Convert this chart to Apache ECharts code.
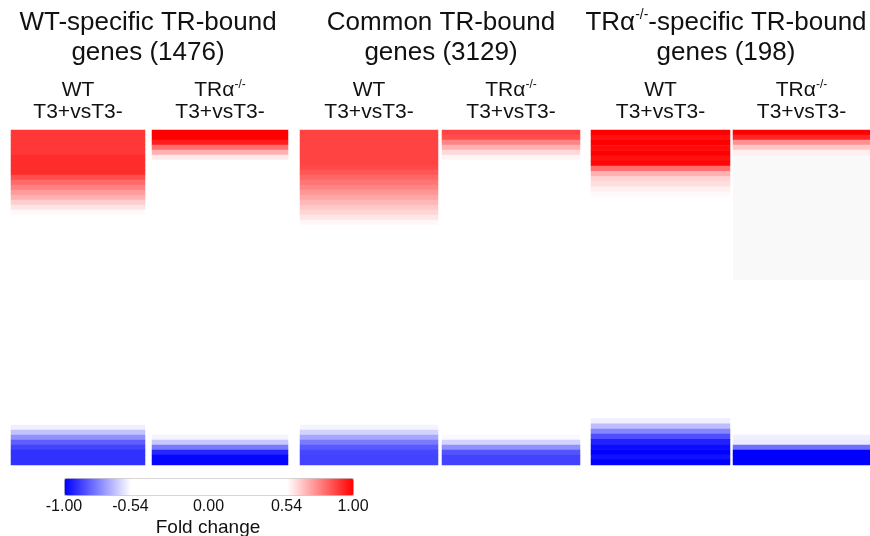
<!DOCTYPE html>
<html>
<head>
<meta charset="utf-8">
<title>TR-bound genes heatmap</title>
<script src="https://cdn.jsdelivr.net/npm/echarts@6/dist/echarts.min.js"></script>
<style>
  html, body { margin: 0; padding: 0; background: #fff; }
  #main { width: 870px; height: 536px; }
</style>
</head>
<body>
<div id="main"></div>
<script>
// fold change (T3+ vs T3-) per gene bin, sorted top -> bottom, 67 bins per column
// null = no value (shown as light grey)
var wtSpecWT = [0.90, 0.90, 0.90, 0.90, 0.90, 0.92, 0.92, 0.92, 0.92, 0.86, 0.81, 0.77, 0.72, 0.68, 0.63, 0.59, 0.55,
  0, 0, 0, 0, 0, 0, 0, 0, 0, 0, 0, 0, 0, 0, 0, 0, 0, 0, 0, 0, 0, 0, 0, 0, 0, 0, 0, 0, 0, 0, 0, 0, 0, 0, 0, 0, 0, 0, 0, 0, 0, 0,
  -0.57, -0.65, -0.74, -0.83, -0.88, -0.91, -0.91, -0.91];
var wtSpecKO = [1.0, 1.0, 0.95, 0.80, 0.68, 0.58,
  0, 0, 0, 0, 0, 0, 0, 0, 0, 0, 0, 0, 0, 0, 0, 0, 0, 0, 0, 0, 0, 0, 0, 0, 0, 0, 0, 0, 0, 0, 0, 0, 0, 0, 0, 0, 0, 0, 0, 0, 0, 0, 0, 0, 0, 0, 0, 0, 0, 0, 0, 0, 0, 0, 0,
  -0.56, -0.64, -0.78, -0.93, -0.99, -0.99];
var commonWT = [0.88, 0.88, 0.88, 0.88, 0.88, 0.88, 0.88,
  0.87, 0.845, 0.815, 0.79, 0.76, 0.73, 0.70, 0.67, 0.64, 0.615, 0.585, 0.555,
  0, 0, 0, 0, 0, 0, 0, 0, 0, 0, 0, 0, 0, 0, 0, 0, 0, 0, 0, 0, 0, 0, 0, 0, 0, 0, 0, 0, 0, 0, 0, 0, 0, 0, 0, 0, 0, 0, 0, 0,
  -0.56, -0.62, -0.70, -0.78, -0.84, -0.875, -0.88, -0.88];
var commonKO = [0.88, 0.86, 0.76, 0.68, 0.61, 0.56,
  0, 0, 0, 0, 0, 0, 0, 0, 0, 0, 0, 0, 0, 0, 0, 0, 0, 0, 0, 0, 0, 0, 0, 0, 0, 0, 0, 0, 0, 0, 0, 0, 0, 0, 0, 0, 0, 0, 0, 0, 0, 0, 0, 0, 0, 0, 0, 0, 0, 0, 0, 0, 0, 0, 0,
  -0.55, -0.62, -0.74, -0.85, -0.88, -0.88];
var koSpecWT = [1.0, 0.97, 1.0, 0.98, 1.0, 0.97, 0.99,
  0.80, 0.68, 0.62, 0.60, 0.57, 0.55,
  0, 0, 0, 0, 0, 0, 0, 0, 0, 0, 0, 0, 0, 0, 0, 0, 0, 0, 0, 0, 0, 0, 0, 0, 0, 0, 0, 0, 0, 0, 0, 0, 0, 0, 0, 0, 0, 0, 0, 0, 0, 0, 0,
  -0.57, -0.66, -0.76, -0.86, -0.94, -0.98, -1.0, -0.97, -1.0];
var koSpecKO = [1.0, 0.93, 0.74, 0.64, 0.57,
  null, null, null, null, null, null, null, null, null, null, null, null, null, null, null, null, null, null, null, null, null, null, null, null, null,
  0, 0, 0, 0, 0, 0, 0, 0, 0, 0, 0, 0, 0, 0, 0, 0, 0, 0, 0, 0, 0, 0, 0, 0, 0, 0, 0, 0, 0, 0, 0,
  -0.57, -0.58, -0.80, -1.0, -1.0, -1.0];

var columns = [wtSpecWT, wtSpecKO, commonWT, commonKO, koSpecWT, koSpecKO];
var colTitles = ['WT\nT3+vsT3-', 'TRα{s|-/-}\nT3+vsT3-', 'WT\nT3+vsT3-', 'TRα{s|-/-}\nT3+vsT3-', 'WT\nT3+vsT3-', 'TRα{s|-/-}\nT3+vsT3-'];
var groupTitles = ['WT-specific TR-bound\ngenes (1476)', 'Common TR-bound\ngenes (3129)', 'TRα{s|-/-}-specific TR-bound\ngenes (198)'];
var legendTicks = [-1, -0.54, 0, 0.54, 1];

// layout of the six columns (px)
var colLeft = [11, 152, 300, 442, 591, 733];
var colWidth = [134, 136, 138, 138, 139, 137];
var groupCenter = [148, 441, 726];
var top0 = 130, colHeight = 335;
var font = '"Liberation Sans", Arial, sans-serif';
var ink = '#111';

// blue (-1) -> white (-0.54 .. 0.54) -> red (1)
function foldColor(v) {
  var c;
  if (v <= -0.54) {
    c = Math.round(255 * (v + 1) / 0.46);
    return 'rgb(' + c + ',' + c + ',255)';
  }
  if (v >= 0.54) {
    c = Math.round(255 * (1 - v) / 0.46);
    return 'rgb(255,' + c + ',' + c + ')';
  }
  return '#ffffff';
}
var colorStops = [];
for (var k = 0; k <= 100; k++) colorStops.push(foldColor(-1 + k * 0.02));

var grids = [], xAxes = [], yAxes = [], series = [], graphics = [];
columns.forEach(function (vals, c) {
  var rows = vals.map(function (v, i) { return i; });
  grids.push({ left: colLeft[c], width: colWidth[c], top: top0, height: colHeight,
    show: c === 5, backgroundColor: '#f9f9f9', borderWidth: 0 });
  xAxes.push({ type: 'category', gridIndex: c, data: ['x'], show: false });
  yAxes.push({ type: 'category', gridIndex: c, data: rows, inverse: true, show: false });
  series.push({
    type: 'heatmap', xAxisIndex: c, yAxisIndex: c,
    itemStyle: { borderWidth: 0 },
    data: vals.map(function (v, i) { return [0, i, v === null ? '-' : v]; })
  });
  graphics.push({
    type: 'text', x: colLeft[c] + colWidth[c] / 2, y: 101,
    style: { text: colTitles[c], fill: ink, fontSize: 21, fontFamily: font,
      align: 'center', verticalAlign: 'middle', lineHeight: 22,
      rich: { s: { fontSize: 12, fontFamily: font, fill: ink, verticalAlign: 'top', lineHeight: 14 } } }
  });
});

groupTitles.forEach(function (t, g) {
  graphics.push({
    type: 'text', x: groupCenter[g], y: 38,
    style: { text: t, fill: ink, fontSize: 26, fontFamily: font,
      align: 'center', verticalAlign: 'middle', lineHeight: 30,
      rich: { s: { fontSize: 14, fontFamily: font, fill: ink, verticalAlign: 'top', lineHeight: 22 } } }
  });
});

graphics.push({
  type: 'text', x: 208, y: 528,
  style: { text: 'Fold change', fill: ink, fontSize: 19, fontFamily: font, align: 'center', verticalAlign: 'middle' }
});

// axis for the colour bar labels
grids.push({ left: 64, width: 289, top: 478, height: 17, show: false });
xAxes.push({
  type: 'value', gridIndex: 6, min: -1, max: 1, position: 'bottom',
  axisLine: { show: false }, axisTick: { show: false }, splitLine: { show: false },
  axisLabel: { customValues: legendTicks, margin: 4, fontSize: 16, fontFamily: font, color: ink,
    formatter: function (v) { return v.toFixed(2); } }
});
yAxes.push({ type: 'value', gridIndex: 6, show: false });

var chart = echarts.init(document.getElementById('main'), null, { renderer: 'canvas' });
chart.setOption({
  animation: false,
  backgroundColor: '#fff',
  grid: grids,
  xAxis: xAxes,
  yAxis: yAxes,
  visualMap: {
    type: 'continuous', min: -1, max: 1, seriesIndex: [0, 1, 2, 3, 4, 5],
    orient: 'horizontal', left: 64, top: 478, itemWidth: 17, itemHeight: 289,
    calculable: false, padding: 0, borderWidth: 1, borderColor: '#c8c8c8',
    inRange: { color: colorStops }
  },
  graphic: graphics,
  series: series
});
</script>
</body>
</html>
